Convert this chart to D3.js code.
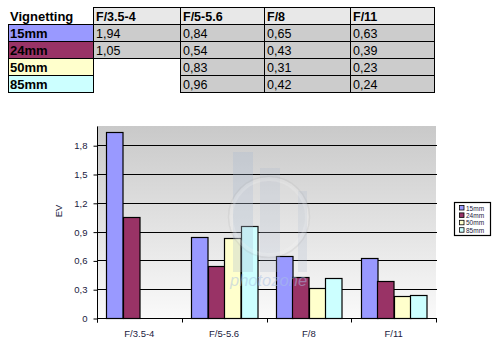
<!DOCTYPE html>
<html>
<head>
<meta charset="utf-8">
<script src="https://cdn.jsdelivr.net/npm/d3@7/dist/d3.min.js"></script>
<style>
  html, body { margin: 0; padding: 0; background: #fff; }
  svg { display: block; font-family: "Liberation Sans", Arial, sans-serif; }
</style>
</head>
<body>
<svg id="chart" width="501" height="347"></svg>
<script>
// Vignetting (EV) per aperture and focal length
const apertures = ["F/3.5-4", "F/5-5.6", "F/8", "F/11"];
const lenses = ["15mm", "24mm", "50mm", "85mm"];
const values15 = [1.94, 0.84, 0.65, 0.63];
const values24 = [1.05, 0.54, 0.43, 0.39];
const values50 = [null, 0.83, 0.31, 0.23];
const values85 = [null, 0.96, 0.42, 0.24];
const yTicks = [0, 0.3, 0.6, 0.9, 1.2, 1.5, 1.8];
const lensColors = ["#9999ff", "#993366", "#ffffcc", "#ccffff"];

const seriesValues = [values15, values24, values50, values85];
const comma = v => String(v).replace(".", ",");
const fmt2 = v => v.toFixed(2).replace(".", ",");

const svg = d3.select("#chart");

/* ---------- data table ---------- */
const colEdges = [8, 93, 180, 264, 350, 434];
const rowTop = 7, rowH = 17;
const table = svg.append("g").attr("class", "table");

table.append("text")
  .attr("x", 10).attr("y", rowTop + 13.5)
  .attr("font-size", 13).attr("font-weight", "bold")
  .text("Vignetting");

apertures.forEach((a, j) => {
  const x = colEdges[j + 1], w = colEdges[j + 2] - x;
  table.append("rect").attr("x", x + 0.5).attr("y", rowTop + 0.5)
    .attr("width", w).attr("height", rowH)
    .attr("fill", "#e8e8e8").attr("stroke", "#000");
  table.append("text").attr("x", x + 3).attr("y", rowTop + 13.5)
    .attr("font-size", 12.5).attr("font-weight", "bold").text(a);
});

lenses.forEach((l, i) => {
  const y = rowTop + rowH * (i + 1);
  table.append("rect").attr("x", colEdges[0] + 0.5).attr("y", y + 0.5)
    .attr("width", colEdges[1] - colEdges[0]).attr("height", rowH)
    .attr("fill", lensColors[i]).attr("stroke", "#000");
  table.append("text").attr("x", colEdges[0] + 2).attr("y", y + 14)
    .attr("font-size", 13).attr("font-weight", "bold").text(l);
  seriesValues[i].forEach((v, j) => {
    if (v == null) return;
    const x = colEdges[j + 1], w = colEdges[j + 2] - x;
    table.append("rect").attr("x", x + 0.5).attr("y", y + 0.5)
      .attr("width", w).attr("height", rowH)
      .attr("fill", "#cccccc").attr("stroke", "#000");
    table.append("text").attr("x", x + 3).attr("y", y + 14)
      .attr("font-size", 12.5).text(fmt2(v));
  });
});

/* ---------- bar chart ---------- */
const plot = { left: 97, right: 436, top: 126, bottom: 318 };

const x0 = d3.scaleBand().domain(apertures).range([plot.left, plot.right]).padding(0);
const groupGap = x0.bandwidth() * 0.221;
const x1 = d3.scaleBand().domain(lenses).range([groupGap / 2, x0.bandwidth() - groupGap / 2]).padding(0);
const y = d3.scaleLinear().domain([0, 2.0]).range([plot.bottom, plot.top]);

const defs = svg.append("defs");
const grad = defs.append("linearGradient").attr("id", "plotBg")
  .attr("x1", 0).attr("y1", 0).attr("x2", 0).attr("y2", 1);
grad.append("stop").attr("offset", "0%").attr("stop-color", "#c9c9c9");
grad.append("stop").attr("offset", "100%").attr("stop-color", "#fafafa");

svg.append("rect")
  .attr("x", plot.left).attr("y", plot.top)
  .attr("width", plot.right - plot.left).attr("height", plot.bottom - plot.top)
  .attr("fill", "url(#plotBg)");

// gridlines
svg.append("g").selectAll("line")
  .data(yTicks.filter(t => t > 0))
  .join("line")
  .attr("x1", plot.left).attr("x2", plot.right + 1)
  .attr("y1", d => Math.round(y(d)) + 0.5).attr("y2", d => Math.round(y(d)) + 0.5)
  .attr("stroke", "#000").attr("stroke-width", 1);

// bars
const barData = [];
apertures.forEach((a, j) => lenses.forEach((l, i) => {
  const v = seriesValues[i][j];
  if (v != null) barData.push({ a, l, v, c: lensColors[i] });
}));
svg.append("g").selectAll("rect")
  .data(barData)
  .join("rect")
  .attr("x", d => Math.round(x0(d.a) + x1(d.l)) + 0.5)
  .attr("y", d => Math.round(y(d.v)) + 0.5)
  .attr("width", x1.bandwidth())
  .attr("height", d => plot.bottom - Math.round(y(d.v)))
  .attr("fill", d => d.c)
  .attr("stroke", "#000").attr("stroke-width", 1.2);

// translucent site logo laid over the plot area
const wm = svg.append("g").attr("class", "logo");
wm.append("rect").attr("x", 233).attr("y", 152).attr("width", 20).attr("height", 120)
  .attr("fill", "#a7b6cf").attr("fill-opacity", 0.28);
wm.append("rect").attr("x", 260).attr("y", 168).attr("width", 20).attr("height", 104)
  .attr("fill", "#a7b6cf").attr("fill-opacity", 0.22);
wm.append("rect").attr("x", 298).attr("y", 191).attr("width", 9).attr("height", 81)
  .attr("fill", "#a7b6cf").attr("fill-opacity", 0.22);
wm.append("circle").attr("cx", 269).attr("cy", 217).attr("r", 38)
  .attr("fill", "#ffffff").attr("fill-opacity", 0.08)
  .attr("stroke", "#f4f4f4").attr("stroke-opacity", 0.22).attr("stroke-width", 4);
wm.append("circle").attr("cx", 269).attr("cy", 217).attr("r", 40.5)
  .attr("fill", "none")
  .attr("stroke", "#9a9a9a").attr("stroke-opacity", 0.14).attr("stroke-width", 1.5);
wm.append("text").attr("x", 230).attr("y", 286)
  .attr("font-size", 16.5).attr("font-style", "italic")
  .attr("fill", "#a9c0e4").attr("fill-opacity", 0.5).text("photozone");

// y axis
const yAxis = d3.axisLeft(y).tickValues(yTicks).tickFormat(comma)
  .tickSize(4).tickSizeOuter(0).tickPadding(6);
const gy = svg.append("g").attr("transform", `translate(${plot.left + 0.5},0.5)`).call(yAxis);
gy.select(".domain").attr("d", `M0,${plot.top}V${plot.bottom + 4}`).attr("stroke", "#000");
gy.selectAll("text").attr("font-size", 9.5).attr("fill", "#1a1a40")
  .attr("font-family", "Liberation Sans, Arial, sans-serif");

// x axis with ticks between categories
const gx = svg.append("g").attr("transform", `translate(0,${plot.bottom + 0.5})`);
gx.append("line").attr("x1", plot.left).attr("x2", plot.right + 1)
  .attr("y1", 0).attr("y2", 0).attr("stroke", "#000");
gx.selectAll("line.tick")
  .data(apertures.map(a => x0(a)).concat([plot.right]))
  .join("line").attr("class", "tick")
  .attr("x1", d => Math.round(d) + 0.5).attr("x2", d => Math.round(d) + 0.5)
  .attr("y1", 0).attr("y2", 4).attr("stroke", "#000");
gx.selectAll("text")
  .data(apertures)
  .join("text")
  .attr("x", d => x0(d) + x0.bandwidth() / 2)
  .attr("y", 18)
  .attr("text-anchor", "middle")
  .attr("font-size", 9.5).attr("fill", "#1a1a40")
  .text(d => d);

// axis title
svg.append("text")
  .attr("transform", "translate(62,211) rotate(-90)")
  .attr("text-anchor", "middle")
  .attr("font-size", 9.5).attr("fill", "#1a1a40")
  .text("EV");

// legend
const lg = svg.append("g").attr("class", "legend");
lg.append("rect").attr("x", 454.5).attr("y", 202.5).attr("width", 36).attr("height", 33)
  .attr("fill", "#fff").attr("stroke", "#000").attr("stroke-width", 1.2);
lenses.forEach((l, i) => {
  const yy = 205 + i * 7.4;
  lg.append("rect").attr("x", 459.5).attr("y", yy + 0.5).attr("width", 4.5).attr("height", 4.5)
    .attr("fill", lensColors[i]).attr("stroke", "#000").attr("stroke-width", 0.8);
  lg.append("text").attr("x", 466).attr("y", yy + 5.5)
    .attr("font-size", 6.5).attr("fill", "#1a1a40").text(l);
});
</script>
</body>
</html>
